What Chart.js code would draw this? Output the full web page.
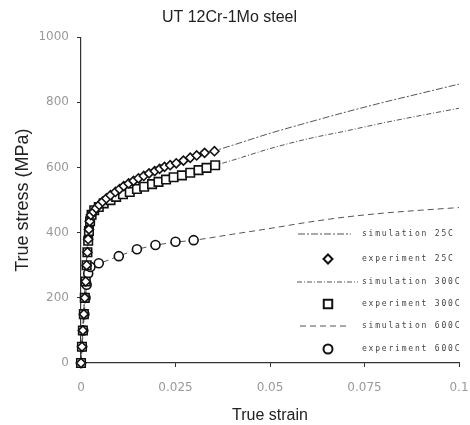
<!DOCTYPE html>
<html>
<head>
<meta charset="utf-8">
<title>UT 12Cr-1Mo steel</title>
<script src="https://cdn.jsdelivr.net/npm/chart.js@4.4.1/dist/chart.umd.min.js"></script>
<style>
    body { margin: 0; background: #fff; }
    #wrap { width: 470px; height: 425px; }
</style>
</head>
<body>
<div id="wrap"><canvas id="chart" width="470" height="425"></canvas></div>
<script>
// Values (strain, MPa)
const sim25Strain = [0, 0.002, 0.003, 0.005, 0.01, 0.015, 0.02, 0.025, 0.03, 0.035, 0.04, 0.05, 0.06, 0.07, 0.08, 0.09, 0.1, 0.103];
const sim25Stress = [0, 400, 455, 490, 535, 566, 594, 614, 633, 650, 668, 705, 738, 770, 800, 828, 856, 864];

const sim300Strain = [0, 0.002, 0.003, 0.005, 0.01, 0.015, 0.02, 0.025, 0.03, 0.035, 0.04, 0.05, 0.06, 0.07, 0.08, 0.09, 0.1, 0.103];
const sim300Stress = [0, 400, 450, 478, 510, 534, 553, 570, 587, 605, 622, 658, 688, 712, 737, 760, 782, 789];

const sim600Strain = [0, 0.0015, 0.0025, 0.005, 0.01, 0.015, 0.02, 0.025, 0.03, 0.04, 0.05, 0.06, 0.07, 0.08, 0.09, 0.1, 0.103];
const sim600Stress = [0, 240, 292, 307, 328, 349, 362, 371, 377, 395, 413, 432, 448, 460, 469, 477, 479];

const exp25Strain = [0, 0.00025, 0.0005, 0.00075, 0.001, 0.00125, 0.0015, 0.0017, 0.0019, 0.0021, 0.0023, 0.0026, 0.0033, 0.0040, 0.0048, 0.0057, 0.0067, 0.0078, 0.0091, 0.0102, 0.0113, 0.0126, 0.0139, 0.0152, 0.0166, 0.0180, 0.0195, 0.0208, 0.0221, 0.0236, 0.0252, 0.0271, 0.0289, 0.0306, 0.0327, 0.0353];
const exp25Stress = [0, 50, 100, 150, 200, 250, 300, 340, 380, 410, 435, 454, 464, 475, 485, 495, 505, 515, 525, 534, 543, 551, 559, 567, 574, 582, 589, 596, 602, 607, 613, 621, 630, 637, 645, 650];

const exp300Strain = [0, 0.00025, 0.0005, 0.00075, 0.001, 0.00125, 0.0015, 0.0017, 0.0019, 0.0021, 0.0024, 0.0028, 0.0035, 0.0047, 0.0060, 0.0078, 0.0093, 0.0111, 0.0129, 0.0148, 0.0167, 0.0188, 0.0205, 0.0225, 0.0245, 0.0267, 0.0289, 0.0311, 0.0332, 0.0355];
const exp300Stress = [0, 50, 100, 150, 200, 250, 300, 340, 375, 405, 435, 455, 469, 479, 490, 500, 510, 518, 525, 534, 541, 549, 556, 563, 570, 576, 584, 592, 599, 607];

const exp600Strain = [0, 0.0003, 0.0006, 0.0009, 0.0012, 0.0015, 0.0019, 0.0025, 0.0047, 0.0100, 0.0148, 0.0197, 0.0250, 0.0298];
const exp600Stress = [0, 50, 100, 150, 200, 240, 275, 295, 306, 328, 349, 362, 372, 377];

const xTicks = [0, 0.025, 0.05, 0.075, 0.1];
const yTicks = [0, 200, 400, 600, 800, 1000];

const legendLabels = ['simulation 25C', 'experiment 25C', 'simulation 300C', 'experiment 300C', 'simulation 600C', 'experiment 600C'];

function toPoints(xs, ys) {
    return xs.map((x, i) => ({ x: x, y: ys[i] }));
}

const LINE = '#555';
const INK = '#111';

function simSet(label, xs, ys, dash) {
    return {
        label: label,
        data: toPoints(xs, ys),
        showLine: true,
        borderColor: LINE,
        borderWidth: 1,
        borderDash: dash,
        pointRadius: 0,
        cubicInterpolationMode: 'monotone',
        clip: false,
        order: 2
    };
}

function expSet(label, xs, ys, style, radius) {
    return {
        label: label,
        data: toPoints(xs, ys),
        showLine: false,
        pointStyle: style,
        pointRadius: radius,
        pointBorderWidth: 1.6,
        pointBorderColor: INK,
        pointBackgroundColor: '#fff',
        clip: false,
        order: 1
    };
}

// legend drawn inside the plot, rows like the original figure
const insideLegend = {
    id: 'insideLegend',
    afterDraw(chart) {
        const ctx = chart.ctx;
        const rows = [234, 259, 282, 304, 326, 349];
        const lineX = [[298, 351], null, [297, 358], null, [300, 348], null];
        const markX = 328;
        const textX = 362;
        ctx.save();
        chart.data.datasets.forEach((ds, i) => {
            const y = rows[i];
            if (lineX[i]) {
                ctx.strokeStyle = ds.borderColor;
                ctx.lineWidth = 1.2;
                ctx.setLineDash(ds.borderDash || []);
                ctx.beginPath();
                ctx.moveTo(lineX[i][0], y);
                ctx.lineTo(lineX[i][1], y);
                ctx.stroke();
                ctx.setLineDash([]);
            } else {
                ctx.strokeStyle = ds.pointBorderColor;
                ctx.fillStyle = ds.pointBackgroundColor;
                ctx.lineWidth = 2;
                Chart.helpers.drawPoint(ctx, {
                    pointStyle: ds.pointStyle,
                    radius: ds.pointRadius,
                    borderWidth: 2,
                    rotation: 0
                }, markX, y);
            }
            ctx.fillStyle = '#444';
            ctx.font = '8px "DejaVu Sans Mono"';
            ctx.letterSpacing = '1.8px';
            ctx.textAlign = 'left';
            ctx.textBaseline = 'middle';
            ctx.fillText(legendLabels[i], textX, y);
        });
        ctx.restore();
    }
};

const datasets = [
    simSet(legendLabels[0], sim25Strain, sim25Stress, [7, 2, 2, 2]),
    expSet(legendLabels[1], exp25Strain, exp25Stress, 'rectRot', 4.5),
    simSet(legendLabels[2], sim300Strain, sim300Stress, [5, 2, 1, 2]),
    expSet(legendLabels[3], exp300Strain, exp300Stress, 'rect', 6),
    simSet(legendLabels[4], sim600Strain, sim600Stress, [6, 4]),
    expSet(legendLabels[5], exp600Strain, exp600Stress, 'circle', 4.5)
];

const axisColor = '#333';

new Chart(document.getElementById('chart'), {
    type: 'scatter',
    data: { datasets: datasets },
    options: {
        responsive: false,
        devicePixelRatio: 1,
        animation: false,
        layout: { padding: { left: 0, right: 11, top: 0, bottom: 0 } },
        plugins: {
            legend: { display: false },
            tooltip: { enabled: false },
            title: {
                display: true,
                text: 'UT 12Cr-1Mo steel',
                color: '#222',
                font: { family: '"Liberation Sans", Arial, sans-serif', size: 16, weight: 'normal' },
                padding: { top: 8, bottom: 10 }
            }
        },
        scales: {
            x: {
                type: 'linear',
                min: xTicks[0],
                max: xTicks[xTicks.length - 1],
                afterFit: s => { s.height = 62; s.paddingLeft = 0; s.paddingRight = 0; },
                afterBuildTicks: s => { s.ticks = xTicks.map(v => ({ value: v })); },
                border: { display: true, color: axisColor, width: 1.2 },
                grid: { display: true, drawOnChartArea: false, tickLength: 4, color: axisColor },
                ticks: {
                    color: '#999',
                    padding: 14,
                    maxRotation: 0,
                    font: { family: '"DejaVu Sans", sans-serif', size: 12 },
                    callback: v => String(+v.toFixed(3))
                },
                title: {
                    display: true,
                    text: 'True strain',
                    color: '#222',
                    font: { family: '"Liberation Sans", Arial, sans-serif', size: 16 },
                    padding: { top: 0, bottom: 0 }
                }
            },
            y: {
                type: 'linear',
                min: yTicks[0],
                max: yTicks[yTicks.length - 1],
                afterFit: s => { s.width = 81; },
                afterBuildTicks: s => { s.ticks = yTicks.map(v => ({ value: v })); },
                border: { display: true, color: axisColor, width: 1.2 },
                grid: { display: true, drawOnChartArea: false, tickLength: 4, color: axisColor },
                ticks: {
                    color: '#999',
                    padding: 8,
                    font: { family: '"DejaVu Sans", sans-serif', size: 12 },
                    callback: v => String(v)
                },
                title: {
                    display: true,
                    text: 'True stress (MPa)',
                    color: '#222',
                    font: { family: '"Liberation Sans", Arial, sans-serif', size: 18 },
                    padding: { top: 12, bottom: 0 }
                }
            }
        }
    },
    plugins: [insideLegend]
});
</script>
</body>
</html>
